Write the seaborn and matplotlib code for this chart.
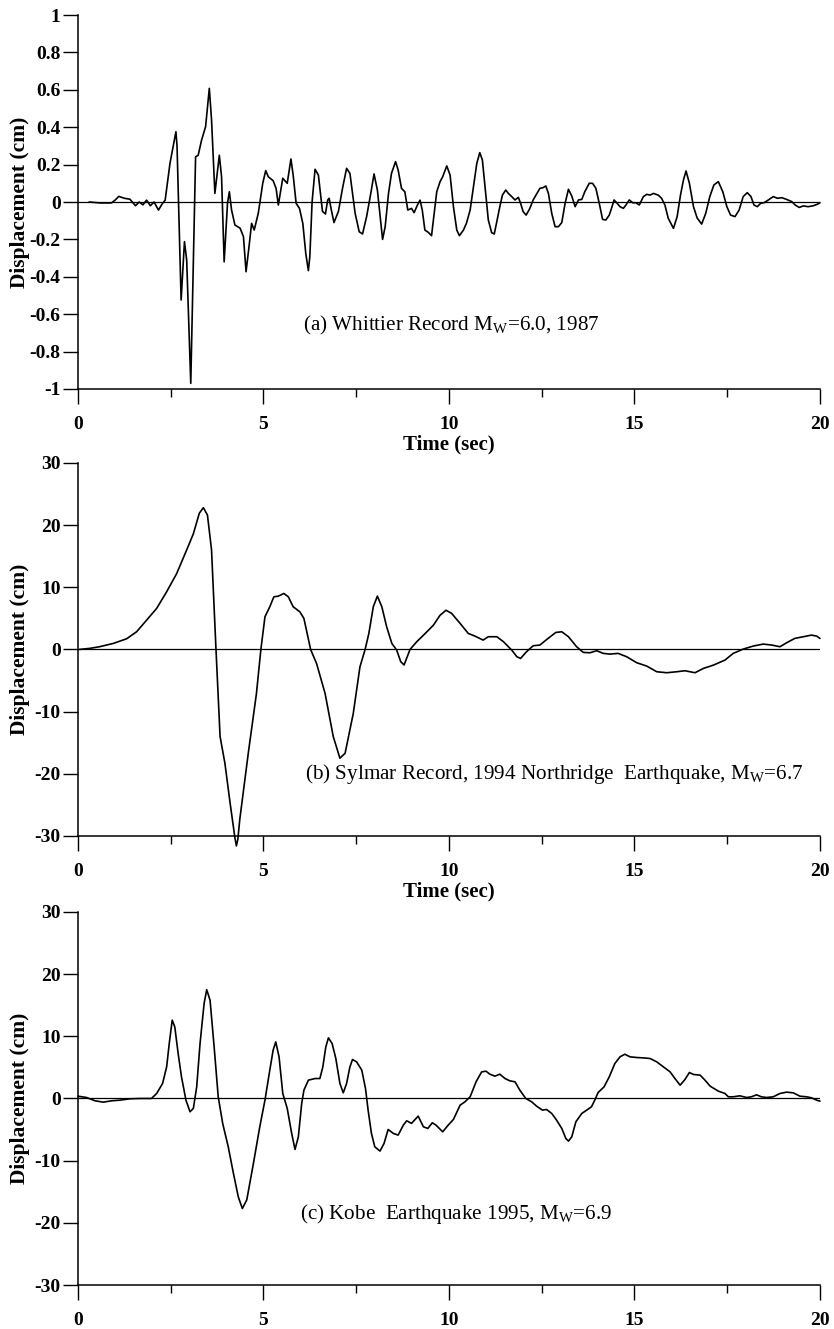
import matplotlib
matplotlib.use("Agg")
import matplotlib.pyplot as plt
import seaborn as sns
import pandas as pd
from matplotlib.ticker import FixedLocator, FixedFormatter, MultipleLocator

# ---- digitised displacement histories (time in s, displacement in cm) ----
whittier_t = [0.30, 0.60, 0.90, 1.00, 1.10, 1.25, 1.40, 1.55, 1.65, 1.75, 1.85, 1.95,
              2.05, 2.17, 2.27, 2.35, 2.48, 2.64, 2.67, 2.78, 2.87, 2.93, 3.04, 3.11,
              3.17, 3.24, 3.33, 3.44, 3.54, 3.60, 3.69, 3.81, 3.87, 3.94, 4.03, 4.08,
              4.14, 4.23, 4.37, 4.46, 4.53, 4.61, 4.68, 4.75, 4.86, 4.98, 5.06, 5.13,
              5.26, 5.34, 5.40, 5.46, 5.52, 5.64, 5.74, 5.80, 5.88, 5.97, 6.06, 6.14,
              6.21, 6.25, 6.31, 6.39, 6.48, 6.59, 6.67, 6.73, 6.77, 6.82, 6.90, 7.02,
              7.13, 7.24, 7.33, 7.47, 7.58, 7.67, 7.78, 7.90, 7.98, 8.07, 8.21, 8.28,
              8.37, 8.45, 8.56, 8.63, 8.72, 8.81, 8.89, 8.99, 9.06, 9.15, 9.22, 9.28,
              9.35, 9.44, 9.53, 9.60, 9.67, 9.76, 9.83, 9.94, 10.03, 10.12, 10.21, 10.28,
              10.39, 10.47, 10.57, 10.66, 10.75, 10.83, 10.90, 10.97, 11.06, 11.15, 11.22,
              11.28, 11.37, 11.44, 11.53, 11.60, 11.69, 11.78, 11.87, 11.93, 12.00, 12.08,
              12.18, 12.27, 12.37, 12.45, 12.54, 12.61, 12.68, 12.77, 12.86, 12.95, 13.04,
              13.13, 13.22, 13.31, 13.40, 13.49, 13.58, 13.66, 13.78, 13.87, 13.96, 14.05,
              14.14, 14.23, 14.32, 14.38, 14.45, 14.52, 14.61, 14.70, 14.77, 14.86, 14.95,
              15.04, 15.13, 15.24, 15.33, 15.42, 15.51, 15.64, 15.73, 15.82, 15.91, 16.05,
              16.15, 16.24, 16.32, 16.39, 16.48, 16.59, 16.69, 16.81, 16.92, 17.03, 17.14,
              17.26, 17.38, 17.49, 17.59, 17.71, 17.82, 17.93, 18.04, 18.14, 18.22, 18.31,
              18.40, 18.49, 18.61, 18.74, 18.85, 18.97, 19.10, 19.24, 19.33, 19.44, 19.55,
              19.68, 19.82, 19.93, 20.00]
whittier_d = [0.0, -0.005, -0.005, 0.01, 0.03, 0.02, 0.015, -0.02, 0.0, -0.015, 0.01, -0.02,
              0.0, -0.043, -0.01, 0.01, 0.207, 0.376, 0.30, -0.524, -0.212, -0.31, -0.97, -0.31,
              0.242, 0.25, 0.33, 0.403, 0.608, 0.44, 0.046, 0.25, 0.135, -0.32, -0.007, 0.055,
              -0.043, -0.123, -0.14, -0.185, -0.373, -0.239, -0.114, -0.15, -0.06, 0.10, 0.168, 0.135,
              0.114, 0.073, -0.016, 0.055, 0.127, 0.10, 0.23, 0.144, -0.007, -0.034, -0.114, -0.275,
              -0.367, -0.29, 0.0, 0.175, 0.144, -0.05, -0.064, 0.01, 0.02, -0.034, -0.11, -0.05,
              0.073, 0.18, 0.153, -0.06, -0.159, -0.171, -0.078, 0.055, 0.15, 0.064, -0.20, -0.132,
              0.046, 0.153, 0.216, 0.171, 0.073, 0.055, -0.043, -0.034, -0.057, -0.016, 0.01, -0.043,
              -0.15, -0.162, -0.18, -0.06, 0.055, 0.109, 0.135, 0.193, 0.144, -0.025, -0.15, -0.18,
              -0.15, -0.114, -0.043, 0.082, 0.207, 0.264, 0.225, 0.082, -0.096, -0.164, -0.171,
              -0.114, -0.025, 0.037, 0.064, 0.046, 0.029, 0.011, 0.025, -0.007, -0.052, -0.07,
              -0.034, 0.011, 0.046, 0.073, 0.077, 0.086, 0.046, -0.061, -0.132, -0.132, -0.11,
              -0.007, 0.068, 0.032, -0.025, 0.011, 0.014, 0.055, 0.10, 0.10, 0.073, -0.007,
              -0.093, -0.096, -0.07, -0.034, 0.011, -0.004, -0.025, -0.034, -0.016, 0.011, -0.004,
              -0.004, -0.016, 0.029, 0.041, 0.037, 0.046, 0.037, 0.02, -0.016, -0.087, -0.141,
              -0.078, 0.037, 0.118, 0.166, 0.10, -0.025, -0.086, -0.118, -0.061, 0.029, 0.091,
              0.109, 0.055, -0.025, -0.07, -0.078, -0.043, 0.029, 0.05, 0.029, -0.016, -0.025,
              -0.007, -0.004, 0.011, 0.029, 0.02, 0.023, 0.014, 0.002, -0.016, -0.029, -0.021,
              -0.025, -0.02, -0.012, -0.004]

sylmar_t = [0.04, 0.31, 0.58, 0.95, 1.31, 1.58, 1.85, 2.12, 2.39, 2.66, 2.93, 3.11, 3.27,
            3.38, 3.49, 3.60, 3.72, 3.83, 3.96, 4.10, 4.23, 4.27, 4.31, 4.36, 4.59, 4.81,
            4.93, 5.04, 5.17, 5.28, 5.40, 5.55, 5.67, 5.80, 5.98, 6.09, 6.27, 6.43, 6.66,
            6.88, 7.06, 7.20, 7.42, 7.60, 7.74, 7.84, 7.96, 8.07, 8.19, 8.32, 8.46, 8.59,
            8.70, 8.79, 8.95, 9.13, 9.36, 9.58, 9.76, 9.92, 10.07, 10.30, 10.52, 10.70,
            10.92, 11.06, 11.29, 11.47, 11.69, 11.83, 11.93, 12.09, 12.27, 12.45, 12.67,
            12.88, 13.04, 13.22, 13.44, 13.62, 13.80, 13.98, 14.16, 14.34, 14.56, 14.79,
            15.06, 15.33, 15.60, 15.87, 16.14, 16.36, 16.63, 16.86, 17.13, 17.44, 17.66,
            17.93, 18.20, 18.47, 18.70, 18.92, 19.10, 19.32, 19.55, 19.77, 19.91, 20.00]
sylmar_d = [0.0, 0.16, 0.43, 0.96, 1.71, 2.84, 4.71, 6.59, 9.27, 12.2, 16.0, 18.6, 21.9,
            22.8, 21.6, 16.0, 0.0, -14.0, -18.3, -24.7, -30.3, -31.6, -30.5, -27.4, -16.7, -7.1,
            0.0, 5.25, 6.86, 8.46, 8.57, 9.0, 8.46, 6.86, 6.05, 4.98, 0.0, -2.25, -7.07,
            -14.0, -17.5, -16.7, -10.3, -2.8, 0.0, 2.57, 6.86, 8.57, 6.86, 3.64, 0.96, -0.1,
            -1.98, -2.5, 0.0, 1.23, 2.57, 3.9, 5.5, 6.3, 5.8, 4.18, 2.57, 2.14,
            1.5, 2.04, 2.04, 1.23, -0.1, -1.18, -1.45, -0.37, 0.59, 0.7, 1.77,
            2.73, 2.84, 2.04, 0.43, -0.48, -0.54, -0.21, -0.64, -0.75, -0.64, -1.18,
            -2.14, -2.68, -3.59, -3.75, -3.59, -3.43, -3.75, -3.05, -2.52, -1.71, -0.64,
            0.05, 0.54, 0.86, 0.7, 0.43, 1.07, 1.77, 2.04, 2.3, 2.14, 1.77]

kobe_t = [0.00, 0.23, 0.46, 0.68, 0.91, 1.13, 1.40, 1.67, 1.98, 2.12, 2.28, 2.39, 2.46,
          2.54, 2.61, 2.70, 2.79, 2.91, 3.02, 3.11, 3.20, 3.29, 3.40, 3.47, 3.56, 3.67,
          3.78, 3.90, 4.05, 4.19, 4.32, 4.43, 4.55, 4.73, 4.90, 5.04, 5.17, 5.26, 5.33,
          5.42, 5.52, 5.64, 5.76, 5.85, 5.94, 6.03, 6.09, 6.21, 6.39, 6.52, 6.60, 6.68,
          6.75, 6.85, 6.95, 7.06, 7.15, 7.24, 7.33, 7.40, 7.51, 7.65, 7.75, 7.82, 7.91,
          8.00, 8.14, 8.25, 8.36, 8.50, 8.63, 8.77, 8.86, 8.99, 9.17, 9.31, 9.43, 9.55,
          9.65, 9.83, 9.98, 10.12, 10.30, 10.43, 10.57, 10.73, 10.88, 11.00, 11.10, 11.24,
          11.37, 11.51, 11.64, 11.78, 11.91, 12.07, 12.23, 12.36, 12.52, 12.63, 12.77,
          12.90, 13.04, 13.15, 13.22, 13.31, 13.42, 13.58, 13.71, 13.84, 13.93, 14.02,
          14.18, 14.32, 14.47, 14.61, 14.74, 14.88, 15.06, 15.24, 15.42, 15.60, 15.78,
          15.96, 16.09, 16.23, 16.36, 16.48, 16.59, 16.77, 16.90, 17.04, 17.26, 17.44,
          17.53, 17.66, 17.84, 18.02, 18.15, 18.29, 18.42, 18.56, 18.74, 18.92, 19.10,
          19.28, 19.46, 19.64, 19.77, 19.91, 20.00]
kobe_d = [0.37, 0.16, -0.37, -0.59, -0.37, -0.27, -0.05, 0.0, 0.0, 0.8, 2.41, 5.09, 8.84,
          12.6, 11.5, 7.23, 3.48, -0.27, -2.14, -1.6, 1.87, 8.84, 15.3, 17.5, 15.8, 8.3,
          0.27, -4.0, -7.77, -12.05, -15.8, -17.7, -16.3, -10.4, -4.55, -0.27, 4.55, 7.77, 9.1,
          6.7, 0.8, -1.6, -5.62, -8.2, -6.16, -0.8, 1.34, 2.95, 3.21, 3.21, 5.09, 8.3,
          9.75, 8.84, 6.43, 2.41, 0.91, 2.41, 5.09, 6.27, 5.89, 4.55, 1.6, -1.87, -5.62,
          -7.77, -8.46, -7.23, -4.98, -5.62, -5.89, -4.28, -3.59, -4.0, -2.84, -4.55, -4.82, -3.91,
          -4.28, -5.36, -4.28, -3.37, -1.07, -0.54, 0.27, 2.68, 4.28, 4.39, 3.91, 3.59,
          3.91, 3.21, 2.84, 2.68, 1.34, 0.0, -0.54, -1.23, -1.87, -1.77, -2.41,
          -3.48, -4.82, -6.43, -6.86, -6.16, -3.75, -2.41, -1.87, -1.34, -0.27, 0.96,
          1.87, 3.48, 5.62, 6.7, 7.12, 6.7, 6.59, 6.53, 6.43, 5.89, 5.09,
          4.28, 3.21, 2.14, 3.05, 4.18, 3.86, 3.75, 2.95, 1.98, 1.18, 0.8,
          0.27, 0.27, 0.43, 0.16, 0.27, 0.59, 0.27, 0.16, 0.27, 0.8, 1.02,
          0.91, 0.37, 0.27, 0.11, -0.27, -0.43]

# ---- axis ticks and captions ----
time_ticks = [0, 5, 10, 15, 20]
time_labels = ["0", "5", "10", "15", "20"]
small_ticks = [-1, -0.8, -0.6, -0.4, -0.2, 0, 0.2, 0.4, 0.6, 0.8, 1]
small_labels = ["-1", "-0.8", "-0.6", "-0.4", "-0.2", "0", "0.2", "0.4", "0.6", "0.8", "1"]
large_ticks = [-30, -20, -10, 0, 10, 20, 30]
large_labels = ["-30", "-20", "-10", "0", "10", "20", "30"]

captions = [
    r"(a) Whittier Record M$_{\mathregular{W}}$=6.0, 1987",
    r"(b) Sylmar Record, 1994 Northridge  Earthquake, M$_{\mathregular{W}}$=6.7",
    r"(c) Kobe  Earthquake 1995, M$_{\mathregular{W}}$=6.9",
]
caption_pos = [(6.06, -0.66), (6.12, -20.1), (5.98, -18.5)]

sns.set_theme(style="ticks")
plt.rcParams["font.family"] = ["Liberation Serif", "DejaVu Serif"]
plt.rcParams["mathtext.fontset"] = "custom"
plt.rcParams["mathtext.rm"] = "Liberation Serif"
plt.rcParams["mathtext.it"] = "Liberation Serif:italic"
plt.rcParams["mathtext.bf"] = "Liberation Serif:bold"

fig = plt.figure(figsize=(8.34, 13.29), dpi=100)
left, width = 0.0935, 0.8897
rects = [(0.7073, 0.2814), (0.3710, 0.2807), (0.0331, 0.2807)]

series = [(whittier_t, whittier_d), (sylmar_t, sylmar_d), (kobe_t, kobe_d)]
yticks = [(small_ticks, small_labels, (-1, 1)),
          (large_ticks, large_labels, (-30, 30)),
          (large_ticks, large_labels, (-30, 30))]

for i, ((bottom, height), (t, d), (yt, yl, ylim)) in enumerate(zip(rects, series, yticks)):
    ax = fig.add_axes([left, bottom, width, height])
    df = pd.DataFrame({"t": t, "d": d})
    ax.axhline(0, color="black", lw=0.9, zorder=1)
    sns.lineplot(data=df, x="t", y="d", ax=ax, color="black", lw=1.2,
                 sort=False, estimator=None, clip_on=False, zorder=3,
                 solid_joinstyle="round", solid_capstyle="round")
    ax.set_xlim(0, 20)
    ax.set_ylim(*ylim)
    ax.yaxis.set_major_locator(FixedLocator(yt))
    ax.yaxis.set_major_formatter(FixedFormatter(yl))
    ax.xaxis.set_major_locator(FixedLocator(time_ticks))
    ax.xaxis.set_major_formatter(FixedFormatter(time_labels))
    ax.xaxis.set_minor_locator(MultipleLocator(2.5))
    for side in ("top", "right"):
        ax.spines[side].set_visible(False)
    for side in ("left", "bottom"):
        ax.spines[side].set_linewidth(1.1)
        ax.spines[side].set_color("black")
    ax.tick_params(axis="both", which="major", direction="out", length=10.5,
                   width=1.0, color="black", labelsize=14, labelcolor="black")
    ax.tick_params(axis="y", pad=2)
    ax.tick_params(axis="x", pad=9)
    ax.tick_params(axis="x", which="minor", direction="out", length=5.5, width=1.0,
                   color="black")
    for lab in ax.get_xticklabels() + ax.get_yticklabels():
        lab.set_fontweight("bold")
    ax.set_ylabel("Displacement (cm)", fontsize=15.5, fontweight="bold",
                  color="black", labelpad=2)
    ax.yaxis.set_label_coords(-0.065, 0.5)
    if i < 2:
        ax.set_xlabel("Time (sec)", fontsize=15, fontweight="bold",
                      color="black", labelpad=1)
    else:
        ax.set_xlabel("")
    cx, cy = caption_pos[i]
    ax.text(cx, cy, captions[i], fontsize=15.2, ha="left", va="center", color="black")

fig.savefig("out.png", dpi=100, facecolor="white")
